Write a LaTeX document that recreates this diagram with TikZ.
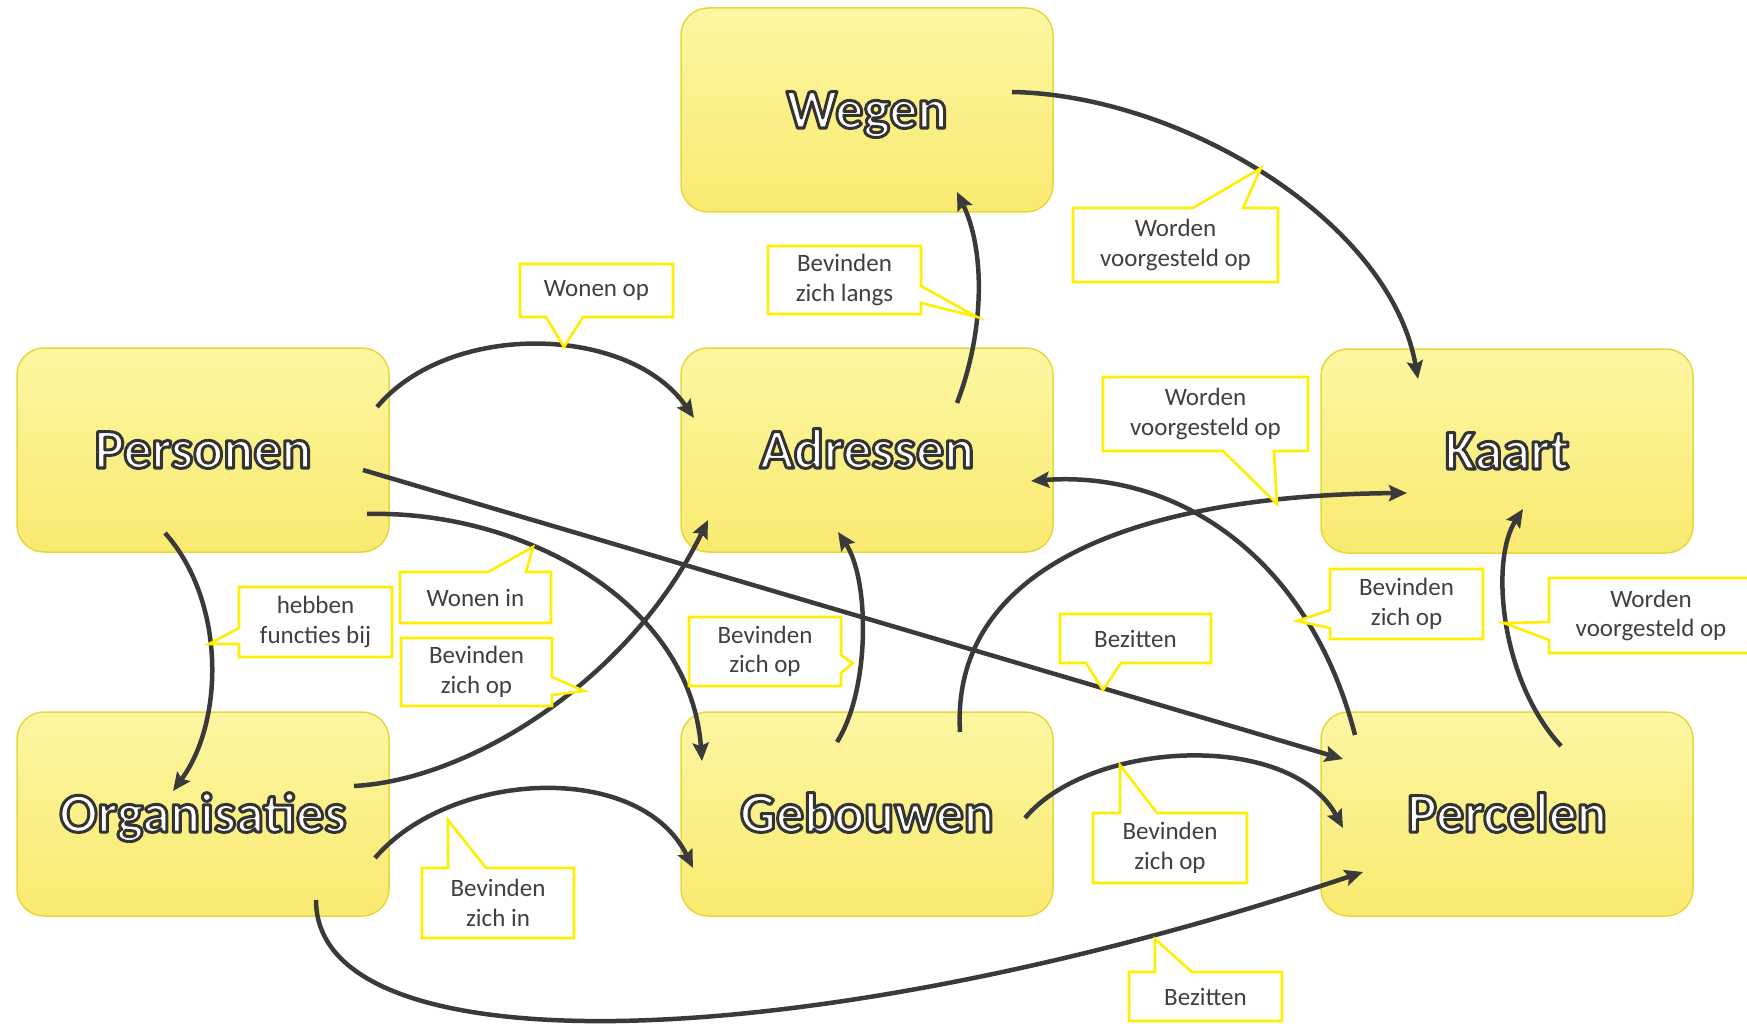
\documentclass[tikz,border=0pt]{standalone}
\usepackage{fontspec}
\setmainfont{Carlito}
\usetikzlibrary{arrows.meta,calc}
\definecolor{boxtop}{RGB}{252,246,162}
\definecolor{boxbot}{RGB}{249,234,112}
\definecolor{boxline}{RGB}{230,216,60}
\definecolor{linkc}{RGB}{58,58,58}
\definecolor{callc}{RGB}{255,238,0}
\definecolor{labc}{RGB}{64,64,64}
\newcommand{\ttl}[1]{{\color{white}\special{pdf:literal direct 2 Tr 3 w 1 j 0.2 0.2 0.2 RG}#1\special{pdf:literal direct 0 Tr}}}
\begin{document}
\begin{tikzpicture}[x=1pt,y=-1pt,
  bigbox/.style={draw=boxline, line width=1.5pt, rounded corners=27pt, top color=boxtop, bottom color=boxbot, minimum width=372pt, minimum height=204pt, inner sep=0pt, text height=36pt, text depth=0pt, font=\fontsize{56}{60}\selectfont\bfseries},
  link/.style={draw=linkc, line width=4.5pt, -{Stealth[length=18pt,width=16pt,inset=3pt]}},
  callbox/.style={draw=callc, line width=2.6pt, fill=white, line join=miter},
  lab/.style={text=labc, font=\fontsize{25}{29.5}\selectfont, align=center, inner sep=0pt}
]
\useasboundingbox (0,0) rectangle (1747,1024);
\clip (0,0) rectangle (1747,1024);

% boxes
\node[bigbox] (wegen) at (867,110) {\ttl{Wegen}};
\node[bigbox] (personen) at (203,450) {\ttl{Personen}};
\node[bigbox] (adressen) at (867,450) {\ttl{Adressen}};
\node[bigbox] (kaart) at (1507,451) {\ttl{Kaart}};
\node[bigbox] (organisaties) at (203,814) {\ttl{Organisaties}};
\node[bigbox] (gebouwen) at (867,814) {\ttl{Gebouwen}};
\node[bigbox] (percelen) at (1507,814) {\ttl{Percelen}};

% connectors
\draw[link] ($(wegen.center)+(145,-18)$) .. controls (1180,95) and (1390,220) .. ($(kaart.center)+(-89,-72)$);
\draw[link] ($(adressen.center)+(90,-47)$) .. controls (985,330) and (985,250) .. ($(wegen.center)+(90,82)$);
\draw[link] ($(personen.center)+(174,-43)$) .. controls (450,320) and (630,325) .. ($(adressen.center)+(-173,-32)$);
\draw[link] ($(personen.center)+(160,20)$) -- ($(percelen.center)+(-164,-55)$);
\draw[link] ($(personen.center)+(164,64)$) .. controls (520,510) and (690,600) .. ($(gebouwen.center)+(-165,-53)$);
\draw[link] ($(personen.center)+(-38,83)$) .. controls (225,600) and (225,720) .. ($(organisaties.center)+(-30,-23)$);
\draw[link] ($(organisaties.center)+(151,-28)$) .. controls (470,780) and (630,680) .. ($(adressen.center)+(-159,70)$);
\draw[link] ($(organisaties.center)+(172,44)$) .. controls (450,770) and (640,760) .. ($(gebouwen.center)+(-174,54)$);
\draw[link] ($(organisaties.center)+(113,86)$) .. controls (316,1070) and (800,1060) .. ($(percelen.center)+(-144,58)$);
\draw[link] ($(gebouwen.center)+(-30,-72)$) .. controls (870,690) and (870,580) .. ($(adressen.center)+(-29,82)$);
\draw[link] ($(gebouwen.center)+(93,-82)$) .. controls (950,560) and (1150,495) .. ($(kaart.center)+(-100,42)$);
\draw[link] ($(percelen.center)+(-152,-79)$) .. controls (1310,560) and (1180,470) .. ($(adressen.center)+(164,31)$);
\draw[link] ($(percelen.center)+(54,-68)$) .. controls (1500,680) and (1490,560) .. ($(kaart.center)+(16,58)$);
\draw[link] ($(gebouwen.center)+(158,4)$) .. controls (1090,740) and (1290,730) .. ($(percelen.center)+(-164,14)$);

% callouts
\draw[callbox] (520,264) -- (673,264) -- (673,317) -- (583,317) -- (564,347) -- (546,317) -- (520,317) -- cycle;
\node[lab] (c1) at (596.5,290.5) {Wonen op};

\draw[callbox] (768,246) -- (921,246) -- (921,286) -- (977,317) -- (921,303) -- (921,314) -- (768,314) -- cycle;
\node[lab] (c2) at (844.5,280) {Bevinden\\zich langs};

\draw[callbox] (1073,208) -- (1193,208) -- (1261,168) -- (1243,208) -- (1278,208) -- (1278,282) -- (1073,282) -- cycle;
\node[lab] (c3) at (1175.5,245) {Worden\\voorgesteld op};

\draw[callbox] (1103,377) -- (1308,377) -- (1308,451) -- (1274,451) -- (1277,504) -- (1223,451) -- (1103,451) -- cycle;
\node[lab] (c4) at (1205.5,414) {Worden\\voorgesteld op};

\draw[callbox] (239,587) -- (392,587) -- (392,657) -- (239,657) -- (239,644) -- (209,644) -- (239,628) -- cycle;
\node[lab] (c5) at (315.5,622) {hebben\\functies bij};

\draw[callbox] (400,572) -- (488,572) -- (533,547) -- (526,572) -- (551,572) -- (551,623) -- (400,623) -- cycle;
\node[lab] (c6) at (475.5,597.5) {Wonen in};

\draw[callbox] (401,638) -- (552,638) -- (552,677) -- (584,691) -- (552,695) -- (552,706) -- (401,706) -- cycle;
\node[lab] (c7) at (476.5,672) {Bevinden\\zich op};

\draw[callbox] (689,617) -- (841,617) -- (841,655) -- (853,663) -- (841,673) -- (841,686) -- (689,686) -- cycle;
\node[lab] (c8) at (765,651.5) {Bevinden\\zich op};

\draw[callbox] (1060,614) -- (1211,614) -- (1211,663) -- (1121,663) -- (1103,690) -- (1086,663) -- (1060,663) -- cycle;
\node[lab] (c9) at (1135.5,638.5) {Bezitten};

\draw[callbox] (1330,569) -- (1483,569) -- (1483,639) -- (1330,639) -- (1330,628) -- (1297,621) -- (1330,610) -- cycle;
\node[lab] (c10) at (1406.5,604) {Bevinden\\zich op};

\draw[callbox] (1549,578) -- (1753,578) -- (1753,653) -- (1549,653) -- (1549,640) -- (1504,623) -- (1549,622) -- cycle;
\node[lab] (c11) at (1651,615.5) {Worden\\voorgesteld op};

\draw[callbox] (422,868) -- (448,868) -- (448,820) -- (486,868) -- (574,868) -- (574,938) -- (422,938) -- cycle;
\node[lab] (c12) at (498,903) {Bevinden\\zich in};

\draw[callbox] (1093,813) -- (1120,813) -- (1120,765) -- (1157,813) -- (1247,813) -- (1247,883) -- (1093,883) -- cycle;
\node[lab] (c13) at (1170,848) {Bevinden\\zich op};

\draw[callbox] (1129,972) -- (1155,972) -- (1155,939) -- (1192,972) -- (1282,972) -- (1282,1021) -- (1129,1021) -- cycle;
\node[lab] (c14) at (1205.5,996.5) {Bezitten};
\end{tikzpicture}
\end{document}
